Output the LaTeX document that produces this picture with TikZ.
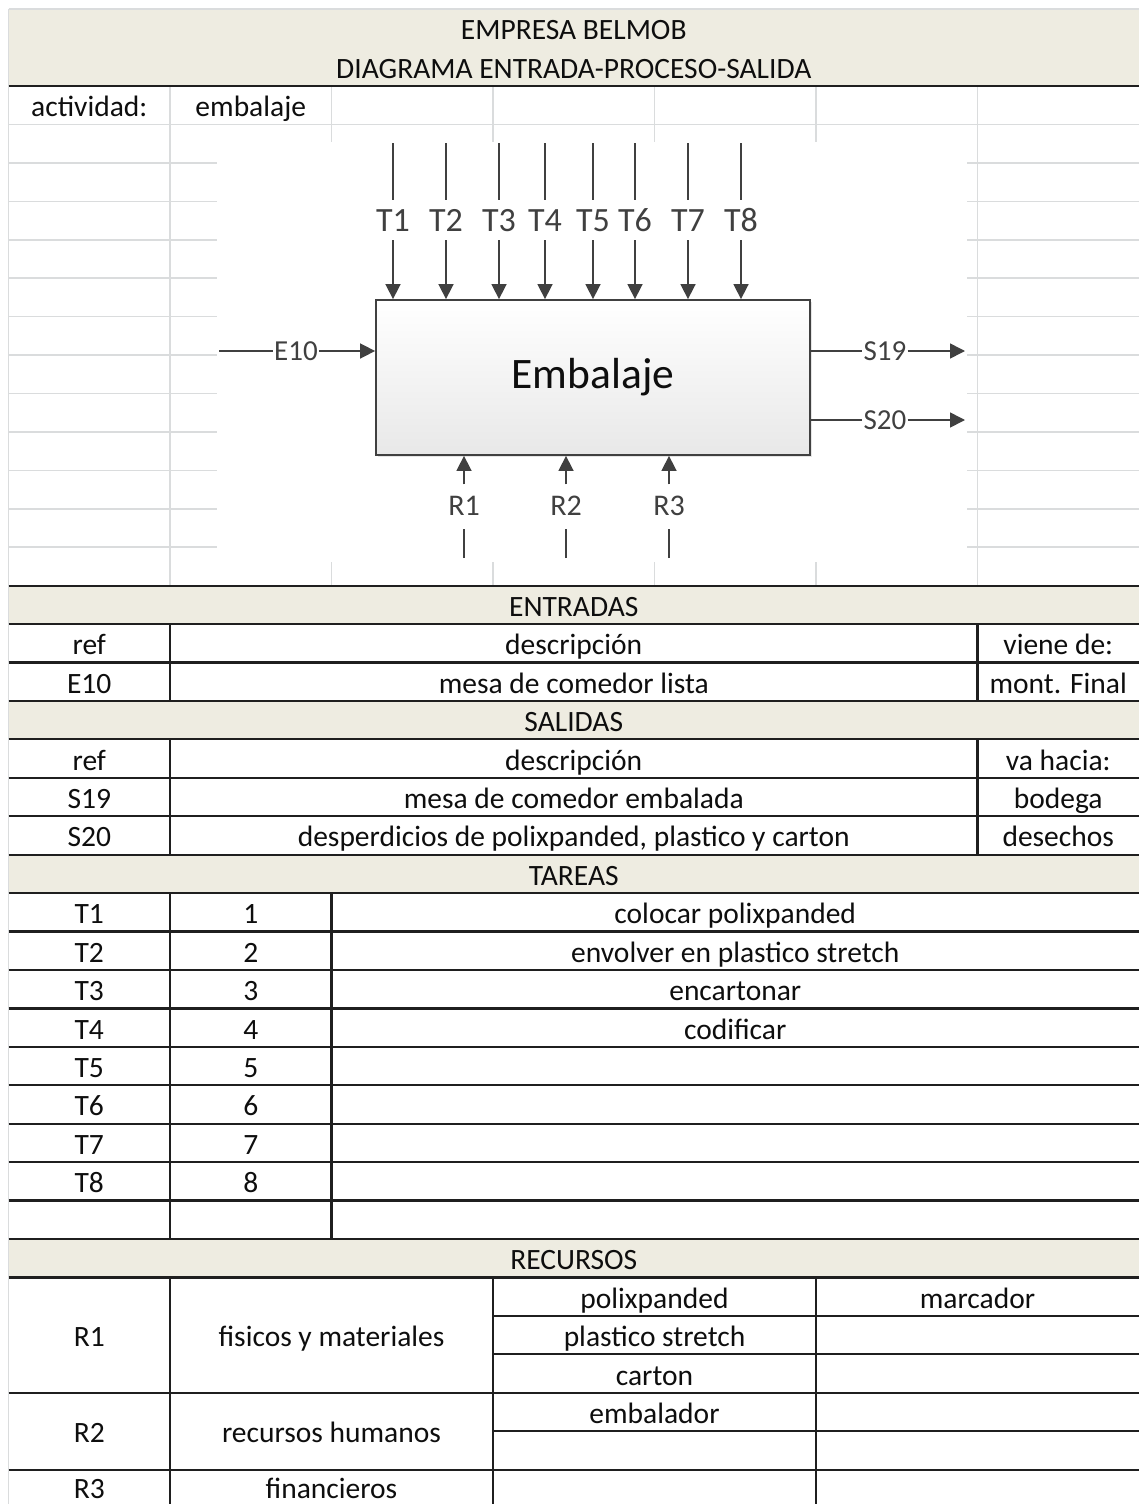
\documentclass[tikz,border=0pt]{standalone}
\usepackage{fontspec}
\setmainfont{Carlito}
\usetikzlibrary{arrows.meta,shadows}
\definecolor{band}{HTML}{EEECE1}
\definecolor{gridgray}{HTML}{DADCDD}
\definecolor{ink}{HTML}{404040}
\definecolor{txt}{HTML}{0E0E0E}

\begin{document}
\begin{tikzpicture}[x=1pt,y=-1pt,
  cell/.style = {font=\fontsize{29.5}{32}\selectfont, text=txt, inner sep=0pt, text height=25pt, text depth=2pt},
  gridline/.style = {draw=gridgray, line width=1.6pt},
  tabline/.style = {draw=black!88, line width=2.2pt},
  proc/.style = {draw=ink, line width=1.8pt, top color=white, bottom color=black!9, minimum width=434pt, minimum height=155pt, font=\fontsize{43.5}{46}\selectfont, text=txt, drop shadow={opacity=0.2, shadow xshift=1.5pt, shadow yshift=-2pt}},
  tlab/.style = {font=\fontsize{34}{36}\selectfont, text=ink, inner xsep=0pt, inner ysep=9pt, text height=22pt, text depth=0pt},
  flab/.style = {font=\fontsize{29}{31}\selectfont, text=ink, inner xsep=1pt, inner ysep=0pt, text height=18pt, text depth=0pt},
  rlab/.style = {font=\fontsize{30}{32}\selectfont, text=ink, inner xsep=0pt, inner ysep=13pt, text height=18pt, text depth=0pt},
  flow/.style = {draw=ink, line width=1.6pt},
  into/.style = {flow, -{Triangle[length=15pt,width=15pt]}}]
\useasboundingbox (0,0) rectangle (1138,1504);
\fill[white] (0,0) rectangle (1138,1504);

\begin{scope}[shift={(8.5,86)},x=161.5pt,y=-38.433pt]
\fill[band] (0,-2) rectangle (7,0);
\foreach \r in {13,16,20,30} \fill[band] (0,\r) rectangle (7,\r+1);
\foreach \r in {1,...,12} \draw[gridline] (0,\r) -- (7,\r);
\foreach \c in {1,...,6} \draw[gridline] (\c,0) -- (\c,13);
\draw[gridline] (0,-2) -- (7,-2) (0,-2) -- (0,37);
\end{scope}

\fill[white] (217,142) rectangle (967,562);

\begin{scope}[shift={(8.5,86)},x=161.5pt,y=-38.433pt]
\foreach \r in {13,...,31} \draw[tabline] (0,\r) -- (7,\r);
\foreach \r in {0,34,36} \draw[tabline] (0,\r) -- (7,\r);
\foreach \r in {32,33,35} \draw[tabline] (3,\r) -- (7,\r);
\draw[tabline] (1,14) -- (1,16) (6,14) -- (6,16) (1,17) -- (1,20) (6,17) -- (6,20);
\draw[tabline] (1,21) -- (1,30) (2,21) -- (2,30);
\draw[tabline] (1,31) -- (1,37) (3,31) -- (3,37) (5,31) -- (5,37);

\node[cell] (title) at (3.5,-1.5) {EMPRESA BELMOB};
\node[cell] (subtitle) at (3.5,-0.5) {DIAGRAMA ENTRADA-PROCESO-SALIDA};
\node[cell] (act) at (0.5,0.5) {actividad:};
\node[cell] (actname) at (1.5,0.5) {embalaje};

\node[cell] (ent) at (3.5,13.5) {ENTRADAS};
\node[cell] (entref) at (0.5,14.5) {ref};
\node[cell] (entdesc) at (3.5,14.5) {descripción};
\node[cell] (entfrom) at (6.5,14.5) {viene de:};
\node[cell] (e10ref) at (0.5,15.5) {E10};
\node[cell] (e10desc) at (3.5,15.5) {mesa de comedor lista};
\node[cell] (e10from) at (6.5,15.5) {mont. Final};

\node[cell] (sal) at (3.5,16.5) {SALIDAS};
\node[cell] (salref) at (0.5,17.5) {ref};
\node[cell] (saldesc) at (3.5,17.5) {descripción};
\node[cell] (salto) at (6.5,17.5) {va hacia:};
\node[cell] (s19ref) at (0.5,18.5) {S19};
\node[cell] (s19desc) at (3.5,18.5) {mesa de comedor embalada};
\node[cell] (s19to) at (6.5,18.5) {bodega};
\node[cell] (s20ref) at (0.5,19.5) {S20};
\node[cell] (s20desc) at (3.5,19.5) {desperdicios de polixpanded, plastico y carton};
\node[cell] (s20to) at (6.5,19.5) {desechos};

\node[cell] (tar) at (3.5,20.5) {TAREAS};
\foreach \i in {1,...,8} {
  \node[cell] (tref\i) at (0.5,20.5+\i) {T\i};
  \node[cell] (tnum\i) at (1.5,20.5+\i) {\i};
}
\node[cell] (tdesc1) at (4.5,21.5) {colocar polixpanded};
\node[cell] (tdesc2) at (4.5,22.5) {envolver en plastico stretch};
\node[cell] (tdesc3) at (4.5,23.5) {encartonar};
\node[cell] (tdesc4) at (4.5,24.5) {codificar};

\node[cell] (rec) at (3.5,30.5) {RECURSOS};
\node[cell] (rref1) at (0.5,32.5) {R1};
\node[cell] (rtype1) at (2,32.5) {fisicos y materiales};
\node[cell] (ritem1) at (4,31.5) {polixpanded};
\node[cell] (ritem2) at (4,32.5) {plastico stretch};
\node[cell] (ritem3) at (4,33.5) {carton};
\node[cell] (ritem4) at (6,31.5) {marcador};
\node[cell] (rref2) at (0.5,35) {R2};
\node[cell] (rtype2) at (2,35) {recursos humanos};
\node[cell] (ritem5) at (4,34.5) {embalador};
\node[cell] (rref3) at (0.5,36.45) {R3};
\node[cell] (rtype3) at (2,36.45) {financieros};
\end{scope}

\node[proc] (box) at (593,377.5) {Embalaje};

\foreach \x [count=\i] in {393,446,499,545,593,635,688,741} {
  \node[tlab] (t\i) at (\x,220) {T\i};
  \coordinate (tin\i) at (\x,143);
  \draw[flow] (tin\i) -- (t\i);
  \draw[into] (t\i) -- (t\i |- box.north);
}

\coordinate (ein) at (219,351);
\node[flab] (e10) at (296,351) {E10};
\draw[flow] (ein) -- (e10);
\draw[into] (e10) -- (e10 -| box.west);

\node[flab] (s19) at (885,351) {S19};
\node[flab] (s20) at (885,420) {S20};
\coordinate (sout19) at (965,351);
\coordinate (sout20) at (965,420);
\draw[flow] (s19 -| box.east) -- (s19);
\draw[into] (s19) -- (sout19);
\draw[flow] (s20 -| box.east) -- (s20);
\draw[into] (s20) -- (sout20);

\foreach \x [count=\i] in {464,566,669} {
  \node[rlab] (r\i) at (\x,506.5) {R\i};
  \coordinate (rin\i) at (\x,558);
  \draw[flow] (rin\i) -- (r\i);
  \draw[into] (r\i) -- (r\i |- box.south);
}
\end{tikzpicture}
\end{document}
